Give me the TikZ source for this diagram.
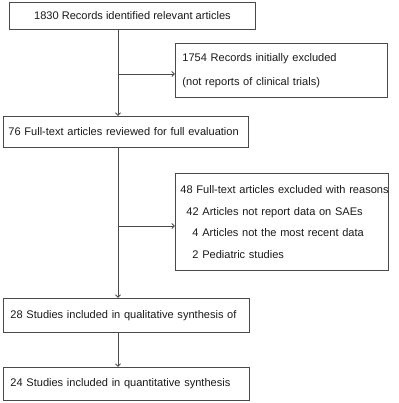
\documentclass[tikz,border=0pt]{standalone}
\usepackage{fontspec}
\setmainfont{Liberation Sans}
\usetikzlibrary{arrows.meta,positioning}
\definecolor{cLine}{HTML}{4A4A4A}
\definecolor{cInk}{HTML}{1A1A1A}

\begin{document}
\begin{tikzpicture}[
    x=1pt, y=1pt,
    font=\fontsize{11.05}{13}\selectfont,
    >={Straight Barb[length=2.6pt,width=5pt]},
    every node/.style={text=cInk},
    box/.style={
        rectangle, draw=cLine, line width=0.9pt,
        minimum height=#1, inner xsep=6pt, inner ysep=0pt,
        align=left, anchor=north west
    },
    flow/.style={->, line width=0.9pt, draw=cLine},
]
\useasboundingbox (0,0) rectangle (398,403);

% =====================================================
% Main column
% =====================================================

\node[box=27pt, align=center, minimum width=246pt] (rec) at (9,401)
    {1830 Records identified relevant articles};
\node[box=31pt, text width=235pt, inner xsep=5pt] (full) at (3,287)
    {\mbox{76 Full-text articles reviewed for full evaluation}};
\node[box=34pt, text width=232pt, inner xsep=7pt] (qual) at (3,105)
    {\mbox{28 Studies included in qualitative synthesis of}};
\node[box=33pt, text width=232pt, inner xsep=7pt] (quan) at (3,36)
    {\mbox{24 Studies included in quantitative synthesis}};

% =====================================================
% Exclusion boxes
% =====================================================

\node[box=54pt, text width=198pt, inner xsep=7pt,
      font=\fontsize{11.05}{24}\selectfont] (excl1) at (175,360)
    {1754 Records initially excluded\\(not reports of clinical trials)};
\node[box=97pt, text width=211pt, inner xsep=1pt,
      font=\fontsize{11.05}{21.7}\selectfont] (excl2) at (175,230)
    {\hspace*{4pt}\mbox{48 Full-text articles excluded with reasons}\\
     \hspace*{10pt}42 Articles not report data on SAEs\\
     \hspace*{16pt}4 Articles not the most recent data\\
     \hspace*{16pt}2 Pediatric studies};

% =====================================================
% Connectors
% =====================================================

\coordinate (br1) at (118,329);
\coordinate (br2) at (118,177);

\draw[flow] (rec.south -| br1) -- (full.north -| br1);
\draw[flow] (br1) -- (br1 -| excl1.west);
\draw[flow] (full.south -| br2) -- (qual.north -| br2);
\draw[flow] (br2) -- (br2 -| excl2.west);
\draw[flow] (qual.south -| br2) -- (quan.north -| br2);

\end{tikzpicture}
\end{document}
